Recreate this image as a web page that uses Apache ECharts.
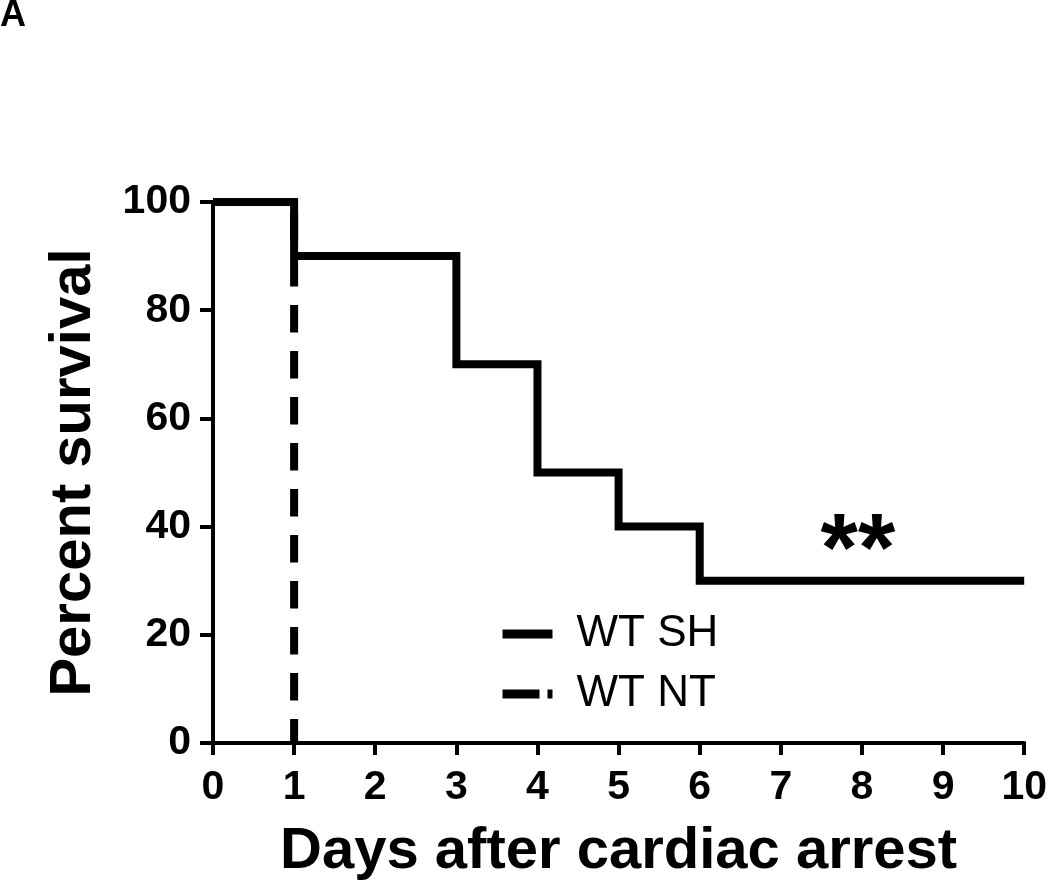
<!DOCTYPE html>
<html><head><meta charset="utf-8">
<script src="https://cdn.jsdelivr.net/npm/echarts@6/dist/echarts.min.js"></script>
<style>html,body{margin:0;padding:0;background:#fff}#c{width:1050px;height:886px}</style>
</head><body><div id="c"></div>
<script>
// ---- data ----
const panelLabel = 'A';
const xTitle = 'Days after cardiac arrest';
const yTitle = 'Percent survival';
const seriesNames = ['WT SH', 'WT NT'];
const wtShDays = [0, 1, 3, 4, 5, 6, 10];
const wtShSurvival = [100, 90, 70, 50, 40, 30, 30];
const wtNtDays = [0, 1];
const wtNtSurvival = [100, 0];
const xRange = [0, 10];
const xStep = 1;
const yRange = [0, 100];
const yStep = 20;
const annotationText = '**';
const annotationPos = [7.95, 35];

// ---- chart ----
const FONT = 'Liberation Sans, Arial, sans-serif';
const chart = echarts.init(document.getElementById('c'), null, {renderer: 'canvas'});
const pair = (xs, ys) => xs.map((x, i) => [x, ys[i]]);

chart.setOption({
  animation: false,
  backgroundColor: '#fff',
  grid: {left: 213, right: 22, top: 202, bottom: 143, containLabel: false},
  xAxis: {
    type: 'value', min: xRange[0], max: xRange[1], interval: xStep,
    name: xTitle, nameLocation: 'middle', nameGap: 80,
    nameTextStyle: {fontFamily: FONT, fontWeight: 'bold', fontSize: 58, color: '#000'},
    axisLine: {show: true, onZero: false, lineStyle: {color: '#000', width: 4}},
    axisTick: {show: true, inside: false, length: 12, lineStyle: {color: '#000', width: 4}},
    axisLabel: {fontFamily: FONT, fontWeight: 'bold', fontSize: 41, color: '#000', margin: 24},
    splitLine: {show: false}
  },
  yAxis: {
    type: 'value', min: yRange[0], max: yRange[1], interval: yStep,
    name: yTitle, nameLocation: 'middle', nameGap: 110, nameRotate: 90,
    nameTextStyle: {fontFamily: FONT, fontWeight: 'bold', fontSize: 58, color: '#000'},
    axisLine: {show: true, onZero: false, lineStyle: {color: '#000', width: 4}},
    axisTick: {show: true, inside: false, length: 13, lineStyle: {color: '#000', width: 4}},
    axisLabel: {fontFamily: FONT, fontWeight: 'bold', fontSize: 41, color: '#000', margin: 22},
    splitLine: {show: false}
  },
  legend: {
    orient: 'vertical', left: 493, top: 607, itemGap: 16,
    itemWidth: 50, itemHeight: 10,
    lineStyle: {width: 9},
    textStyle: {fontFamily: FONT, fontSize: 44, color: '#000', padding: [0, 0, 0, 19]},
    data: [
      {name: seriesNames[0], lineStyle: {type: 'solid', width: 9}},
      {name: seriesNames[1], lineStyle: {type: [37, 8], width: 9}}
    ]
  },
  series: [
    {
      name: seriesNames[0], type: 'line', step: 'end', symbol: 'none',
      data: pair(wtShDays, wtShSurvival),
      lineStyle: {color: '#000', width: 8, type: 'solid', join: 'miter', cap: 'butt'},
      itemStyle: {color: '#000'}, z: 3
    },
    {
      name: seriesNames[1], type: 'line', step: 'end', symbol: 'none',
      data: pair(wtNtDays, wtNtSurvival),
      lineStyle: {color: '#000', width: 8, type: [27.5, 18.5], join: 'miter', cap: 'butt'},
      itemStyle: {color: '#000'}, z: 2
    }
  ]
});

const ap = chart.convertToPixel({gridIndex: 0}, annotationPos);
chart.setOption({
  graphic: [
    {type: 'text', left: 0, top: -2, style: {text: panelLabel, font: 'bold 36px ' + FONT, fill: '#000'}},
    {type: 'text', x: ap[0], y: ap[1], style: {text: annotationText, font: 'bold 96px ' + FONT, fill: '#000', align: 'center', verticalAlign: 'middle'}}
  ]
});
</script></body></html>
